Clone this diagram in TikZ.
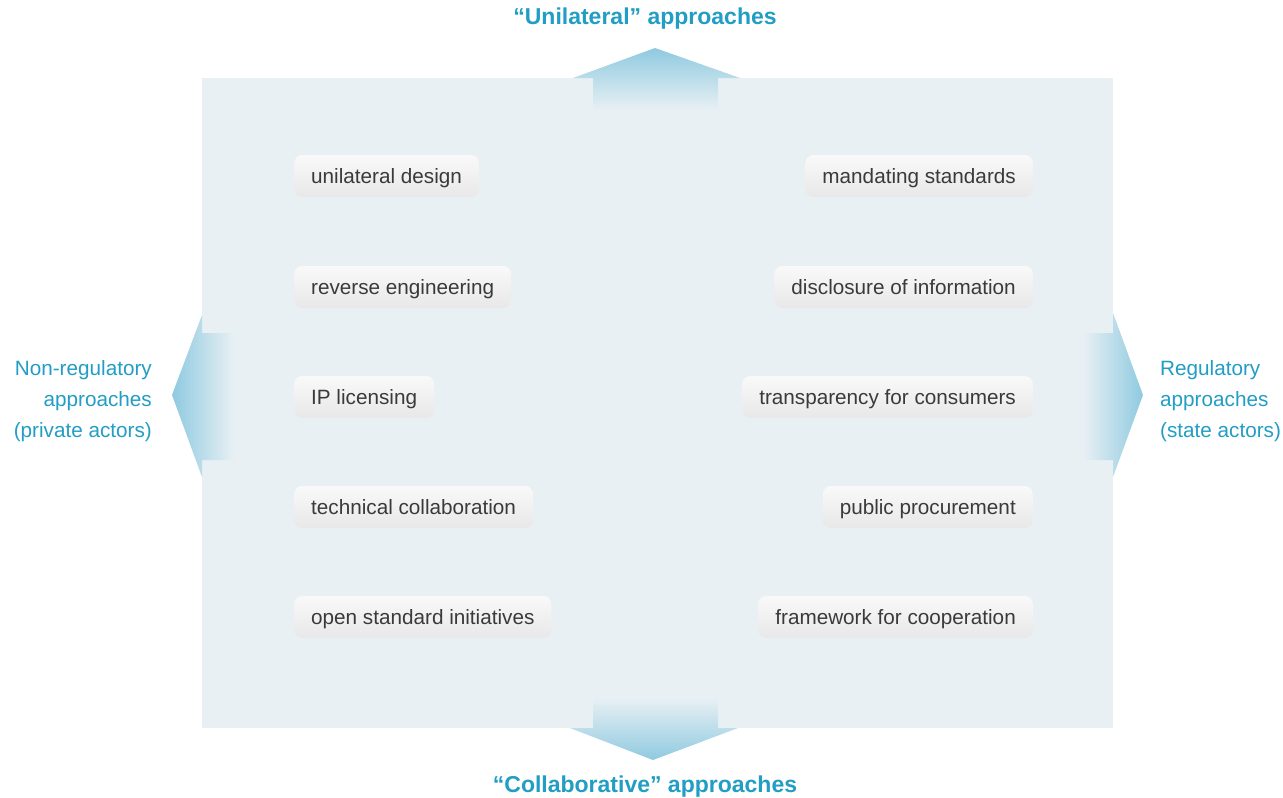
\documentclass[tikz,border=0pt]{standalone}
\usepackage{fontspec}
\setmainfont{Liberation Sans}
\definecolor{panel}{HTML}{E8F0F4}
\definecolor{arrowdark}{HTML}{8FCAE0}
\definecolor{axis}{HTML}{229DC4}
\definecolor{boxtop}{HTML}{F9F9F9}
\definecolor{boxbot}{HTML}{E8E8E8}
\definecolor{itemtext}{HTML}{3A3A3A}
\begin{document}
\begin{tikzpicture}[x=1pt,y=-1pt,
  item/.style={rounded corners=8pt, top color=boxtop, bottom color=boxbot,
    draw=none, minimum height=42pt, inner xsep=17pt, inner ysep=0pt,
    text height=16pt, text depth=2pt,
    text=itemtext, font=\fontsize{20.7}{24}\selectfont},
  leftitem/.style={item, anchor=west},
  rightitem/.style={item, anchor=east},
  axislabel/.style={text=axis, inner sep=0pt, font=\fontsize{23}{28}\selectfont\bfseries},
  sidelabel/.style={text=axis, inner sep=0pt, font=\fontsize{20.7}{31}\selectfont}]

% canvas
\useasboundingbox (0,0) rectangle (1283,798);
\fill[white] (0,0) rectangle (1283,798);

% central panel
\fill[panel] (202,78) rectangle (1113,728);

% axis arrows
\shade[top color=arrowdark, bottom color=panel]
  (655,48) -- (740,78) -- (718,78) -- (718,110) -- (593,110) -- (593,78) -- (573,78) -- cycle;
\shade[top color=panel, bottom color=arrowdark]
  (593,698) -- (718,698) -- (718,728) -- (738,728) -- (653,760) -- (570,728) -- (593,728) -- cycle;
\shade[left color=arrowdark, right color=panel]
  (172,395) -- (202,315) -- (202,333) -- (234,333) -- (234,460) -- (202,460) -- (202,477) -- cycle;
\shade[left color=panel, right color=arrowdark]
  (1083,333) -- (1113,333) -- (1113,313) -- (1143,395) -- (1113,477) -- (1113,460) -- (1083,460) -- cycle;

% axis labels
\node[axislabel] (unilateral) at (645,19) {“Unilateral” approaches};
\node[axislabel] (collaborative) at (645,787) {“Collaborative” approaches};
\node[sidelabel, anchor=east, align=right] (nonreg) at (152,401)
  {Non-regulatory\\approaches\\(private actors)};
\node[sidelabel, anchor=west, align=left] (reg) at (1160,401)
  {Regulatory\\approaches\\(state actors)};

% private-actor instruments
\node[leftitem] (ud) at (294,176) {unilateral design};
\node[leftitem] (re) at (294,287) {reverse engineering};
\node[leftitem] (ip) at (294,397) {IP licensing};
\node[leftitem] (tc) at (294,507) {technical collaboration};
\node[leftitem] (os) at (294,617) {open standard initiatives};

% state-actor instruments
\node[rightitem] (ms) at (1033,176) {mandating standards};
\node[rightitem] (di) at (1033,287) {disclosure of information};
\node[rightitem] (tr) at (1033,397) {transparency for consumers};
\node[rightitem] (pp) at (1033,507) {public procurement};
\node[rightitem] (fc) at (1033,617) {framework for cooperation};
\end{tikzpicture}
\end{document}
